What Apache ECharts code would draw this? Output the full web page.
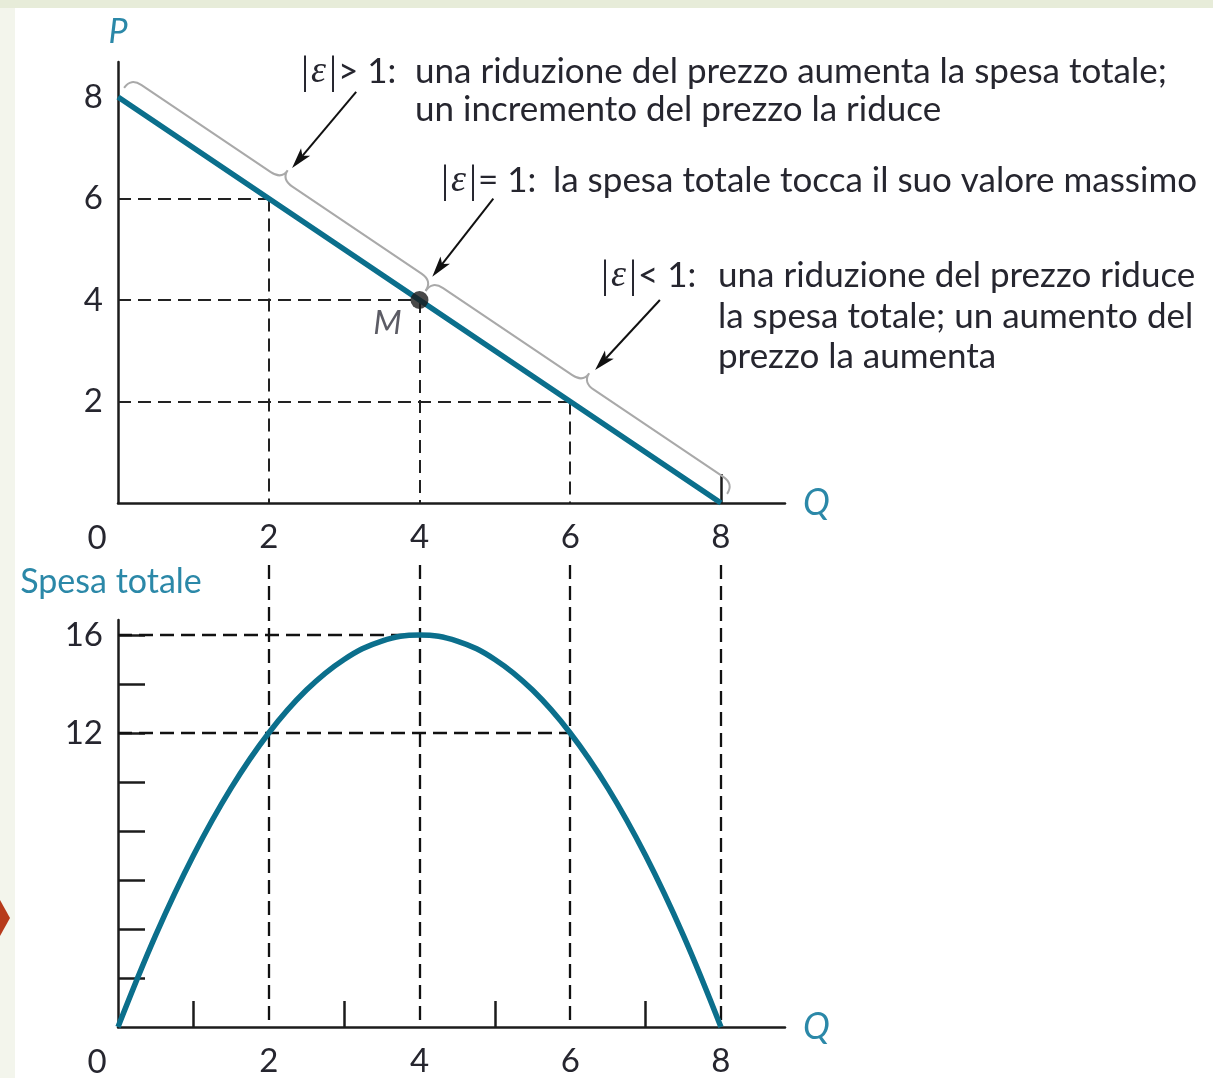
<!DOCTYPE html>
<html>
<head>
<meta charset="utf-8">
<title>Elasticità e spesa totale</title>
<script src="https://cdn.jsdelivr.net/npm/echarts@6/dist/echarts.min.js"></script>
<style>
  html, body { margin: 0; padding: 0; background: #ffffff; }
  #chart { width: 1213px; height: 1078px; }
</style>
</head>
<body>
<div id="chart"></div>
<script>
// Demand curve P = f(Q), read at the labelled quantities
const quantities = [0, 2, 4, 6, 8];
const prices = [8, 6, 4, 2, 0];

// Total expenditure P*Q along the demand curve
const spendQuantities = [0, 0.5, 1, 1.5, 2, 2.5, 3, 3.5, 4, 4.5, 5, 5.5, 6, 6.5, 7, 7.5, 8];
const spendValues = [0, 3.75, 7, 9.75, 12, 13.75, 15, 15.75, 16, 15.75, 15, 13.75, 12, 9.75, 7, 3.75, 0];

// Axis labels and ticks
const qTickLabels = ['2', '4', '6', '8'];
const priceTickLabels = ['2', '4', '6', '8'];
const spendTickLabels = ['12', '16'];
const spendTicks = [2, 4, 6, 8, 10, 12, 14, 16];
const minorQTicks = [1, 3, 5, 7];

// Point of unit elasticity
const unitPoint = [4, 4];

// Braces along the demand curve: [Q1, P1, Q2, P2]
const braceSpans = [[0, 8, 4, 4], [4, 4, 8, 0]];
// Leader arrows: [fromQ, fromP, toQ, toP]
const leaderArrows = [[3.16, 8.1, 2.31, 6.6], [4.98, 6.0, 4.17, 4.46], [7.19, 4.0, 6.33, 2.62]];

// Annotation texts
const elasticLabels = ['{b||}{e|ε}{b||}> 1:', '{b||}{e|ε}{b||}= 1:', '{b||}{e|ε}{b||}< 1:'];
const elasticNotes = [
  ['una riduzione del prezzo aumenta la spesa totale;', 'un incremento del prezzo la riduce'],
  ['la spesa totale tocca il suo valore massimo'],
  ['una riduzione del prezzo riduce', 'la spesa totale; un aumento del', 'prezzo la aumenta']
];

const TEAL = '#0b6f8c';
const LABEL_TEAL = '#2b88a8';
const INK = '#26262f';
const AXIS = '#1c1c1c';
const FONT = 'Lato, "Noto Sans", sans-serif';
const guideTop = 18.85; // top end of the vertical guides in the lower panel

// Guide segments derived from the data
const topGuides = [];
const bottomGuides = [];
quantities.forEach((q, i) => {
  const p = prices[i];
  if (q > 0 && p > 0) {
    topGuides.push({ coords: [[0, p], [q, p]] });
    topGuides.push({ coords: [[q, p], [q, 0]] });
  }
  if (q > 0) bottomGuides.push({ coords: [[q, guideTop], [q, 0]] });
});
const spendAt = q => spendValues[spendQuantities.indexOf(q)];
const peakQ = spendQuantities[spendValues.indexOf(Math.max(...spendValues))];
bottomGuides.push({ coords: [[0, spendAt(peakQ)], [peakQ, spendAt(peakQ)]] });
bottomGuides.push({ coords: [[0, spendAt(2)], [6, spendAt(6)]] });

function braceItem(params, api) {
  const p1 = api.coord([api.value(0), api.value(1)]);
  const p2 = api.coord([api.value(2), api.value(3)]);
  const dx = p2[0] - p1[0], dy = p2[1] - p1[1];
  const len = Math.hypot(dx, dy);
  const d = [dx / len, dy / len];
  const n = [d[1], -d[0]];
  const o1 = 11, o2 = 23, o3 = 34, r = 13;
  const at = (base, a, b) => [base[0] + n[0] * a + d[0] * b, base[1] + n[1] * a + d[1] * b];
  const mid = [(p1[0] + p2[0]) / 2, (p1[1] + p2[1]) / 2];
  const pts = [
    at(p1, o1, 0), at(p1, o2, 0), at(p1, o2, r),
    at(mid, o2, -r), at(mid, o2, 0), at(mid, o3, 0),
    at(mid, o2, 0), at(mid, o2, r),
    at(p2, o2, -r), at(p2, o2, 0), at(p2, o1, 0)
  ].map(p => p[0].toFixed(1) + ' ' + p[1].toFixed(1));
  const path = 'M' + pts[0] + ' Q' + pts[1] + ' ' + pts[2] + ' L' + pts[3] +
    ' Q' + pts[4] + ' ' + pts[5] + ' Q' + pts[6] + ' ' + pts[7] +
    ' L' + pts[8] + ' Q' + pts[9] + ' ' + pts[10];
  return {
    type: 'path',
    shape: { pathData: path },
    style: { stroke: '#a9a9a9', lineWidth: 2, fill: null }
  };
}

function arrowItem(params, api) {
  const a = api.coord([api.value(0), api.value(1)]);
  const b = api.coord([api.value(2), api.value(3)]);
  const dx = b[0] - a[0], dy = b[1] - a[1];
  const len = Math.hypot(dx, dy);
  const u = [dx / len, dy / len];
  const w = [-u[1], u[0]];
  const L = 21, W = 6;
  const back = [b[0] - u[0] * L, b[1] - u[1] * L];
  const notch = [b[0] - u[0] * (L - 5), b[1] - u[1] * (L - 5)];
  return {
    type: 'group',
    children: [
      { type: 'line', shape: { x1: a[0], y1: a[1], x2: notch[0], y2: notch[1] },
        style: { stroke: '#111', lineWidth: 2 } },
      { type: 'polygon', shape: { points: [b, [back[0] + w[0] * W, back[1] + w[1] * W], notch, [back[0] - w[0] * W, back[1] - w[1] * W]] },
        style: { fill: '#111' } }
    ]
  };
}

// Text placement for the annotations
const labelPos = [[300, 72], [440, 181], [600, 276]];
const notePos = [[415, 72, 38], [553, 181, 0], [718, 276, 40.5]];
const textGraphics = [];
elasticLabels.forEach((t, i) => {
  textGraphics.push({
    type: 'text', x: labelPos[i][0], y: labelPos[i][1], z: 20,
    style: {
      text: t, fill: INK, font: '35px ' + FONT, verticalAlign: 'middle', align: 'left',
      rich: {
        b: { fontFamily: '"Liberation Serif", serif', fontSize: 40, fill: INK, padding: [0, 1, 0, 1] },
        e: { fontFamily: '"Liberation Serif", serif', fontStyle: 'italic', fontSize: 38, fill: INK, padding: [0, 2, 0, 1] }
      }
    }
  });
  elasticNotes[i].forEach((line, j) => {
    textGraphics.push({
      type: 'text', x: notePos[i][0], y: notePos[i][1] + j * notePos[i][2], z: 20,
      style: { text: line, fill: INK, font: '35px ' + FONT, verticalAlign: 'middle', align: 'left' }
    });
  });
});

const tickFont = { fontFamily: FONT, fontSize: 33, color: INK };

const option = {
  backgroundColor: '#ffffff',
  animation: false,
  graphic: [
    { type: 'rect', z: -10, shape: { x: 0, y: 0, width: 1213, height: 8 }, style: { fill: '#e7ecd9' } },
    { type: 'rect', z: -10, shape: { x: 0, y: 8, width: 15, height: 1070 }, style: { fill: '#f3f5ec' } },
    { type: 'polygon', z: 10, shape: { points: [[0, 900], [10, 918], [0, 936]] }, style: { fill: '#b73a1b' } },
    { type: 'text', x: 97, y: 538, style: { text: '0', font: '33px ' + FONT, fill: INK, align: 'center', verticalAlign: 'middle' } },
    { type: 'text', x: 97, y: 1062, style: { text: '0', font: '33px ' + FONT, fill: INK, align: 'center', verticalAlign: 'middle' } },
    ...textGraphics
  ],
  grid: [
    { left: 118, top: 62, width: 667, height: 441 },
    { left: 118, top: 620, width: 667, height: 408 }
  ],
  xAxis: [
    {
      gridIndex: 0, type: 'value', min: 0, max: 8.85, interval: 2,
      name: 'Q', nameLocation: 'end', nameGap: 18,
      nameTextStyle: { fontFamily: FONT, fontStyle: 'italic', fontSize: 36, color: LABEL_TEAL, verticalAlign: 'middle' },
      axisLine: { lineStyle: { color: AXIS, width: 2.5 } },
      axisTick: { show: true, inside: true, length: 29, customValues: [8], lineStyle: { color: AXIS, width: 2.5 } },
      splitLine: { show: false },
      axisLabel: { margin: 18, ...tickFont, formatter: v => qTickLabels.includes(String(v)) ? String(v) : '' }
    },
    {
      gridIndex: 1, type: 'value', min: 0, max: 8.85, interval: 2,
      name: 'Q', nameLocation: 'end', nameGap: 18,
      nameTextStyle: { fontFamily: FONT, fontStyle: 'italic', fontSize: 36, color: LABEL_TEAL, verticalAlign: 'middle' },
      axisLine: { lineStyle: { color: AXIS, width: 2.5 } },
      axisTick: { show: true, inside: true, length: 26, customValues: minorQTicks, lineStyle: { color: AXIS, width: 2.5 } },
      splitLine: { show: false },
      axisLabel: { margin: 18, ...tickFont, formatter: v => qTickLabels.includes(String(v)) ? String(v) : '' }
    }
  ],
  yAxis: [
    {
      gridIndex: 0, type: 'value', min: 0, max: 8.69, interval: 2,
      name: 'P', nameLocation: 'end', nameGap: 13,
      nameTextStyle: { fontFamily: FONT, fontStyle: 'italic', fontSize: 34, color: LABEL_TEAL, align: 'center' },
      axisLine: { show: true, lineStyle: { color: AXIS, width: 2.5 } },
      axisTick: { show: false },
      splitLine: { show: false },
      axisLabel: { margin: 15, ...tickFont, formatter: v => priceTickLabels.includes(String(v)) ? String(v) : '' }
    },
    {
      gridIndex: 1, type: 'value', min: 0, max: 16.61, interval: 2,
      name: 'Spesa totale', nameLocation: 'end', nameGap: 21,
      nameTextStyle: { fontFamily: FONT, fontSize: 34, color: LABEL_TEAL, align: 'center', padding: [0, 14, 0, 0] },
      axisLine: { show: true, lineStyle: { color: AXIS, width: 2.5 } },
      axisTick: { show: true, inside: true, length: 27, customValues: spendTicks, lineStyle: { color: AXIS, width: 2.5 } },
      splitLine: { show: false },
      axisLabel: { margin: 15, ...tickFont, formatter: v => spendTickLabels.includes(String(v)) ? String(v) : '' }
    }
  ],
  series: [
    {
      type: 'lines', coordinateSystem: 'cartesian2d', xAxisIndex: 0, yAxisIndex: 0,
      data: topGuides, silent: true, z: 1,
      lineStyle: { color: '#222', width: 2, type: [13, 7], opacity: 1, curveness: 0 }
    },
    {
      type: 'lines', coordinateSystem: 'cartesian2d', xAxisIndex: 1, yAxisIndex: 1,
      data: bottomGuides, silent: true, clip: false, z: 1,
      lineStyle: { color: '#111', width: 2.3, type: [14, 7], opacity: 1, curveness: 0 }
    },
    {
      type: 'line', xAxisIndex: 0, yAxisIndex: 0, z: 3,
      data: quantities.map((q, i) => [q, prices[i]]),
      symbol: 'none', lineStyle: { color: TEAL, width: 5.5 }
    },
    {
      type: 'line', xAxisIndex: 1, yAxisIndex: 1, z: 3, smooth: 0.4,
      data: spendQuantities.map((q, i) => [q, spendValues[i]]),
      symbol: 'none', lineStyle: { color: TEAL, width: 5.5 }
    },
    {
      type: 'scatter', xAxisIndex: 0, yAxisIndex: 0, z: 5,
      data: [unitPoint], symbolSize: 18, itemStyle: { color: '#1b1b1b' },
      label: { show: true, formatter: 'M', position: 'inside', offset: [-32, 23],
        fontFamily: FONT, fontStyle: 'italic', fontSize: 33, color: '#33333f' }
    },
    {
      type: 'custom', xAxisIndex: 0, yAxisIndex: 0, z: 4, silent: true,
      data: braceSpans, renderItem: braceItem
    },
    {
      type: 'custom', xAxisIndex: 0, yAxisIndex: 0, z: 6, silent: true,
      data: leaderArrows, renderItem: arrowItem
    }
  ]
};

const chart = echarts.init(document.getElementById('chart'), null, { renderer: 'canvas' });
chart.setOption(option);
</script>
</body>
</html>
